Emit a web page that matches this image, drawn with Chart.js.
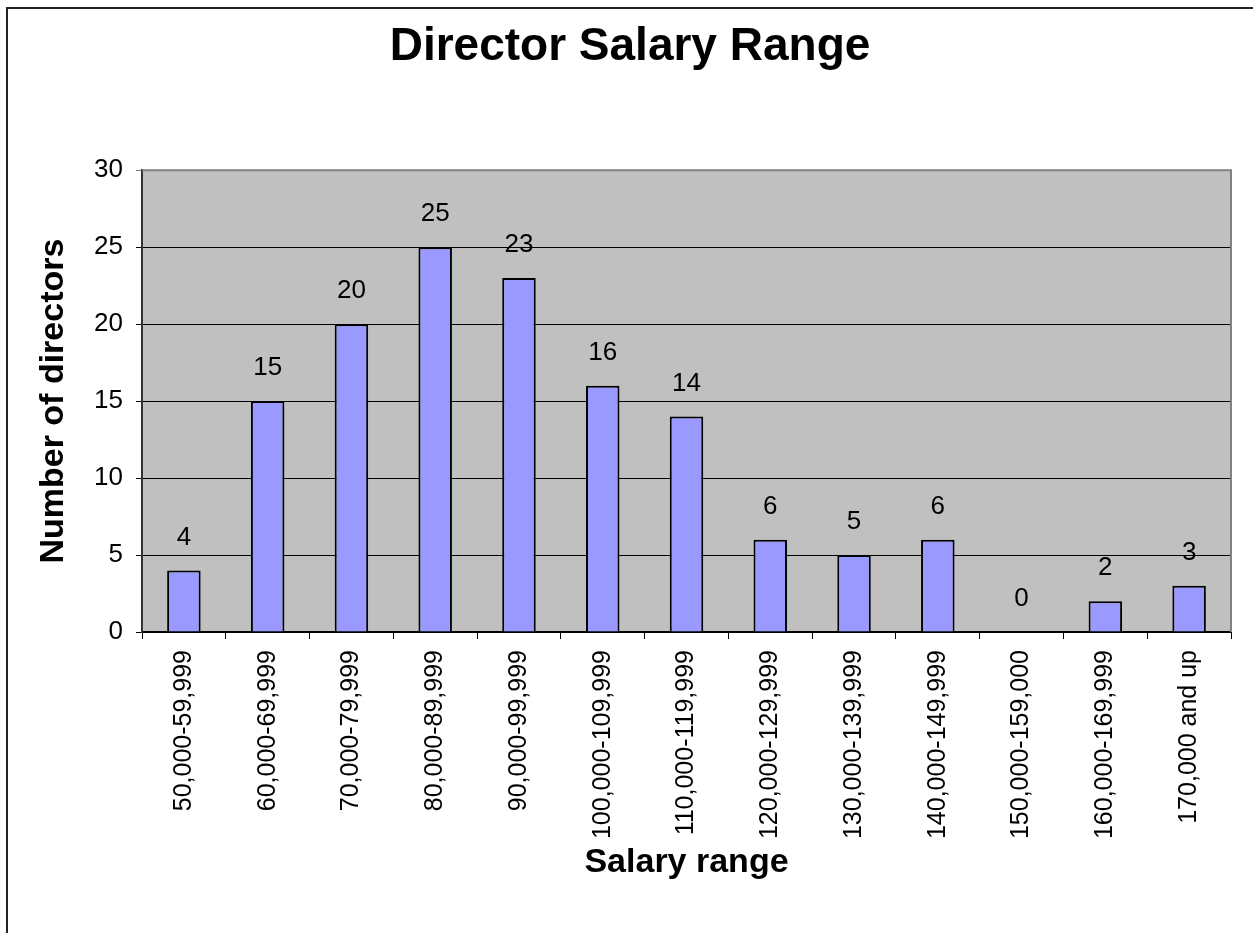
<!DOCTYPE html>
<html><head><meta charset="utf-8">
<script src="https://cdn.jsdelivr.net/npm/chart.js@4"></script>
<style>html,body{margin:0;padding:0;background:#fff}#wrap{width:1253px;height:933px}</style>
</head><body><div id="wrap"><canvas id="c" width="1253" height="933"></canvas></div>
<script>
const categories = ['50,000-59,999','60,000-69,999','70,000-79,999','80,000-89,999','90,000-99,999','100,000-109,999','110,000-119,999','120,000-129,999','130,000-139,999','140,000-149,999','150,000-159,000','160,000-169,999','170,000 and up'];
const directorCounts = [4,15,20,25,23,16,14,6,5,6,0,2,3];
const yTickValues = [0,5,10,15,20,25,30];
const chartTitle = 'Director Salary Range';
const xAxisTitle = 'Salary range';
const yAxisTitle = 'Number of directors';

const FONT = "'Liberation Sans', Arial, sans-serif";

const framePlugin = {
  id: 'frame',
  beforeDraw(chart) {
    const {ctx, chartArea: a} = chart;
    ctx.save();
    ctx.fillStyle = '#fff';
    ctx.fillRect(0, 0, chart.width, chart.height);
    ctx.strokeStyle = '#222';
    ctx.lineWidth = 2;
    ctx.beginPath();
    ctx.moveTo(7, 933); ctx.lineTo(7, 8); ctx.lineTo(1253, 8);
    ctx.stroke();
    ctx.fillStyle = '#c0c0c0';
    ctx.fillRect(a.left, a.top, a.right - a.left, a.bottom - a.top);
    ctx.restore();
  },
  afterDraw(chart) {
    const {ctx, chartArea: a} = chart;
    ctx.save();
    ctx.strokeStyle = '#808080';
    ctx.lineWidth = 2;
    ctx.beginPath();
    ctx.moveTo(a.left, a.top); ctx.lineTo(a.right, a.top); ctx.lineTo(a.right, a.bottom);
    ctx.stroke();
    ctx.restore();
  }
};

const valueLabels = {
  id: 'valueLabels',
  afterDatasetsDraw(chart) {
    const {ctx} = chart;
    const meta = chart.getDatasetMeta(0);
    ctx.save();
    ctx.font = '26px ' + FONT;
    ctx.fillStyle = '#000';
    ctx.textAlign = 'center';
    ctx.textBaseline = 'middle';
    meta.data.forEach((bar, i) => {
      ctx.fillText(String(directorCounts[i]), bar.x, bar.y - 33);
    });
    ctx.restore();
  }
};

new Chart(document.getElementById('c'), {
  type: 'bar',
  data: {
    labels: categories,
    datasets: [{
      data: directorCounts,
      backgroundColor: '#9999ff',
      borderColor: '#000',
      borderWidth: 2,
      barPercentage: 0.4,
      categoryPercentage: 1.0
    }]
  },
  options: {
    responsive: false,
    animation: false,
    devicePixelRatio: 1,
    layout: {padding: {left: 29, right: 22, top: 0, bottom: 0}},
    plugins: {
      legend: {display: false},
      tooltip: {enabled: false},
      title: {
        display: true,
        text: chartTitle,
        color: '#000',
        font: {family: FONT, size: 46, weight: 'bold', lineHeight: 1.2},
        padding: {top: 20, bottom: 95}
      }
    },
    scales: {
      x: {
        afterFit(scale) { scale.height = 301; },
        grid: {display: true, offset: true, drawOnChartArea: false, drawTicks: true, tickLength: 7, color: '#000', lineWidth: 1},
        border: {display: true, color: '#000', width: 2},
        ticks: {
          color: '#000', font: {family: FONT, size: 25},
          minRotation: 90, maxRotation: 90, autoSkip: false, padding: 11
        },
        title: {
          display: true, text: xAxisTitle, color: '#000',
          font: {family: FONT, size: 34, weight: 'bold', lineHeight: 1.2},
          padding: {top: 0, bottom: 50}
        }
      },
      y: {
        min: 0, max: 30,
        afterFit(scale) { scale.width = 113; },
        afterBuildTicks(scale) { scale.ticks = yTickValues.map(v => ({value: v})); },
        grid: {
          color: (c) => (c.tick && c.tick.value === 30) ? '#808080' : '#000',
          lineWidth: 1, tickLength: 6, drawTicks: true
        },
        border: {display: true, color: '#333', width: 2},
        ticks: {color: '#000', font: {family: FONT, size: 26}, padding: 13},
        title: {
          display: true, text: yAxisTitle, color: '#000',
          font: {family: FONT, size: 34, weight: 'bold', lineHeight: 1.2},
          padding: {top: 4, bottom: 0}
        }
      }
    }
  },
  plugins: [framePlugin, valueLabels]
});
</script>
</body></html>
